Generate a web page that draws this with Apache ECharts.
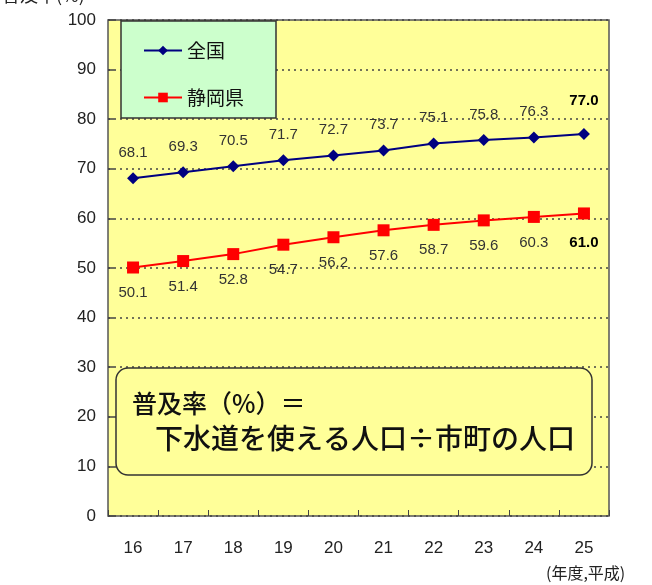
<!DOCTYPE html>
<html><head><meta charset="utf-8">
<script src="https://cdn.jsdelivr.net/npm/echarts@6/dist/echarts.min.js"></script>
<style>html,body{margin:0;padding:0;background:#fff}#c{width:652px;height:585px}</style>
</head><body><div id="c"></div>
<script>
const years = ['16','17','18','19','20','21','22','23','24','25'];
const nationalName = '全国';
const shizuokaName = '静岡県';
const national = [68.1, 69.3, 70.5, 71.7, 72.7, 73.7, 75.1, 75.8, 76.3, 77.0];
const shizuoka = [50.1, 51.4, 52.8, 54.7, 56.2, 57.6, 58.7, 59.6, 60.3, 61.0];
const yTicks = {min: 0, max: 100, interval: 10};

const font = '"Noto Sans CJK JP", sans-serif';
const numFont = '"Liberation Sans", "DejaVu Sans", sans-serif';
function mk(arr, dy) {
  return arr.map((v, i) => i === arr.length - 1
    ? {value: v, label: {fontWeight: 'bold', color: '#000', offset: [0, dy]}}
    : v);
}
const chart = echarts.init(document.getElementById('c'));
chart.setOption({
  backgroundColor: '#fff',
  animation: false,
  grid: {left: 108, right: 43, top: 20, bottom: 69, show: true,
    backgroundColor: '#ffff99', borderColor: '#555', borderWidth: 1.5},
  legend: {
    z: 20,
    orient: 'vertical', left: 138, top: 36, itemGap: 28,
    itemWidth: 38, itemHeight: 12,
    textStyle: {fontFamily: font, fontSize: 19, color: '#111'},
    data: [nationalName, shizuokaName]
  },
  xAxis: {
    type: 'category', data: years, boundaryGap: true,
    axisLine: {show: false},
    axisTick: {show: true, inside: true, length: 6, lineStyle: {color: '#444'}},
    axisLabel: {fontFamily: numFont, fontSize: 17, color: '#222', margin: 24},
    splitLine: {show: false}
  },
  yAxis: {
    type: 'value', min: yTicks.min, max: yTicks.max, interval: yTicks.interval,
    axisLine: {show: false},
    axisTick: {show: true, inside: true, length: 6, lineStyle: {color: '#444', width: 1.5}},
    axisLabel: {fontFamily: numFont, fontSize: 17, color: '#222', margin: 12},
    splitLine: {show: true, lineStyle: {color: '#444', type: [2, 4], width: 1.5}}
  },
  graphic: [
    {type: 'rect', z: 5, shape: {x: 121, y: 21, width: 155, height: 97},
      style: {fill: '#ccffcc', stroke: '#333', lineWidth: 1.5}},
    {type: 'rect', z: 5, shape: {x: 116, y: 368, width: 476, height: 107, r: 12},
      style: {fill: '#ffff99', stroke: '#333', lineWidth: 1.5}},
    {type: 'text', z: 6, left: 132, top: 391,
      style: {text: '普及率（%）＝', font: '500 25px ' + font, fill: '#111'}},
    {type: 'text', z: 6, left: 155, top: 424,
      style: {text: '下水道を使える人口÷市町の人口', font: '500 28px ' + font, fill: '#111'}},
    {type: 'text', z: 6, left: 2, top: -14,
      style: {text: '普及率(%)', font: '18px ' + font, fill: '#222'}},
    {type: 'text', z: 6, left: 546, top: 565,
      style: {text: '(年度,平成)', font: '16px ' + font, fill: '#222'}}
  ],
  series: [
    {name: nationalName, type: 'line', z: 10, data: mk(national, -8),
      symbol: 'diamond', symbolSize: 12,
      lineStyle: {color: '#000080', width: 2}, itemStyle: {color: '#000080'},
      label: {show: true, position: 'top', distance: 12, formatter: p => p.value.toFixed(1),
        fontFamily: numFont, fontSize: 15, color: '#333'}},
    {name: shizuokaName, type: 'line', z: 10, data: mk(shizuoka, 4),
      symbol: 'rect', symbolSize: 12,
      lineStyle: {color: '#ff0000', width: 2}, itemStyle: {color: '#ff0000'},
      label: {show: true, position: 'bottom', distance: 12, formatter: p => p.value.toFixed(1),
        fontFamily: numFont, fontSize: 15, color: '#333'}}
  ]
});
</script></body></html>
